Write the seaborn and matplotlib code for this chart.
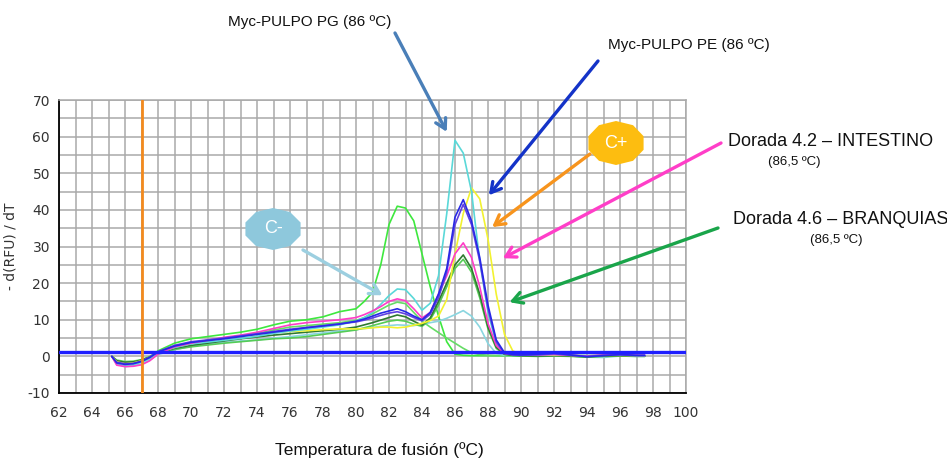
import numpy as np
import pandas as pd
import matplotlib
matplotlib.use("Agg")
import matplotlib.pyplot as plt
import seaborn as sns
from matplotlib.patches import Polygon

# melt curve data (temperature in C, -d(RFU)/dT)
temps = [65.2, 65.5, 66, 66.5, 67, 67.5, 68, 69, 70, 71, 72, 73, 74, 75, 76, 77, 78, 79, 80, 80.5,
         81, 81.5, 82, 82.5, 83, 83.5, 84, 84.5, 85, 85.5, 86, 86.5, 87, 87.5, 88, 88.5, 89, 89.5,
         90, 91, 92, 93, 94, 95, 96, 97, 97.5]

pulpo_pg = [0.0, -2.2, -2.6, -2.3, -1.6, -0.6, 1.0, 2.4, 3.4, 3.9, 4.4, 4.9, 5.5, 6.3, 6.9, 7.4, 8.0, 8.6, 9.6, 10.6,
            12.0, 14.2, 16.6, 18.4, 18.2, 15.8, 12.6, 14.5, 22.0, 39.0, 59.0, 55.5, 45.0, 26.0, 12.0, 3.5, 1.0, 0.5,
            0.4, 0.3, 0.5, 0.3, 0.2, 0.3, 0.4, 0.2, 0.2]
c_neg = [0.0, -2.0, -2.8, -2.6, -2.1, -1.0, 0.5, 1.8, 2.8, 3.3, 3.8, 4.2, 4.5, 5.0, 5.4, 5.9, 6.4, 6.9, 7.3, 7.6,
         7.9, 8.2, 8.4, 8.6, 8.5, 8.4, 8.8, 9.2, 9.6, 10.4, 11.4, 12.5, 11.0, 8.0, 3.5, 0.8, 0.3, 0.2,
         0.2, 0.1, 0.2, 0.1, -0.2, -0.3, 0.1, 0.0, 0.0]
c_pos = [0.0, -1.5, -2.0, -1.8, -1.2, -0.4, 1.0, 2.5, 3.5, 4.2, 5.0, 5.5, 6.0, 6.5, 6.8, 7.0, 7.3, 7.5, 7.5, 7.6,
         7.8, 8.0, 8.0, 7.8, 8.0, 8.5, 9.0, 9.8, 11.0, 15.5, 28.0, 39.0, 46.0, 43.0, 32.0, 17.0, 6.0, 1.5,
         0.5, 0.4, 0.3, 0.3, 0.2, 0.3, 0.3, 0.2, 0.2]
pulpo_pe = [0.0, -1.8, -2.2, -2.0, -1.4, -0.3, 1.2, 2.8, 3.8, 4.3, 4.8, 5.4, 6.0, 6.6, 7.2, 7.8, 8.3, 8.8, 9.6, 10.2,
            11.0, 11.8, 12.4, 13.0, 12.2, 11.0, 10.0, 12.0, 17.0, 24.0, 38.0, 42.8, 37.0, 27.0, 14.0, 4.5, 1.0, 0.5,
            0.4, 0.6, 0.9, 0.4, -0.1, 0.2, 0.5, 0.3, 0.3]
pulpo_pe2 = [0.0, -1.6, -2.0, -1.9, -1.3, -0.2, 1.3, 3.0, 4.0, 4.5, 5.0, 5.6, 6.2, 6.8, 7.4, 7.9, 8.4, 8.9, 9.4, 9.9,
             10.5, 11.2, 11.8, 12.2, 11.6, 10.6, 9.7, 11.5, 16.0, 23.0, 36.0, 41.5, 36.0, 26.0, 13.0, 4.0, 0.8, 0.4,
             0.3, 0.4, 0.7, 0.3, 0.0, 0.3, 0.4, 0.2, 0.2]
dorada_42 = [0.0, -2.4, -2.8, -2.7, -2.3, -1.2, 0.6, 2.6, 3.6, 4.4, 5.2, 5.8, 6.6, 7.6, 8.6, 9.2, 9.6, 10.0, 10.6, 11.4,
             12.4, 13.6, 15.0, 15.7, 15.2, 13.0, 10.5, 12.0, 17.0, 22.0, 28.0, 31.0, 27.0, 19.0, 9.0, 3.0, 0.8, 0.5,
             0.6, 0.4, 0.5, 0.3, 0.1, 0.4, 0.6, 0.3, 0.3]
dorada_46 = [0.0, -1.2, -1.6, -1.5, -1.0, -0.2, 1.0, 2.2, 3.0, 3.6, 4.2, 4.8, 5.3, 5.8, 6.2, 6.6, 7.0, 7.4, 8.0, 8.6,
             9.2, 9.9, 10.6, 11.3, 10.8, 9.6, 8.5, 10.5, 15.0, 20.0, 25.0, 27.7, 24.0, 17.0, 8.0, 2.5, 0.6, 0.3,
             0.2, 0.1, 0.2, 0.1, -0.1, 0.1, 0.2, 0.1, 0.1]
dorada_46b = [0.0, -1.3, -1.7, -1.6, -1.2, -0.4, 0.8, 1.9, 2.6, 3.1, 3.6, 4.0, 4.4, 4.8, 5.0, 5.4, 6.0, 6.6, 7.2, 7.8,
              8.4, 9.0, 9.6, 9.9, 9.6, 8.8, 8.2, 10.0, 14.0, 19.0, 24.0, 26.5, 23.0, 16.0, 7.5, 2.2, 0.5, 0.2,
              0.1, 0.0, 0.1, 0.0, -0.2, 0.0, 0.1, 0.0, 0.0]
dimer_a = [0.0, -1.4, -1.8, -1.6, -1.1, -0.2, 1.5, 3.6, 4.8, 5.4, 6.0, 6.6, 7.4, 8.6, 9.6, 10.0, 10.8, 12.2, 13.0, 15.0,
           17.5, 25.0, 36.0, 41.0, 40.5, 37.0, 28.0, 19.0, 11.0, 4.0, 0.6, 0.3, 0.2, 0.2, 0.2, 0.2, 0.2, 0.1,
           0.2, 0.1, 0.3, 0.1, 0.0, 0.1, 0.2, 0.1, 0.1]
dimer_b = [0.0, -1.0, -1.4, -1.3, -0.9, 0.0, 1.2, 2.6, 3.6, 4.4, 5.0, 5.6, 6.2, 7.2, 8.0, 8.4, 8.8, 9.2, 9.8, 10.6,
           11.6, 12.8, 14.0, 14.8, 14.4, 12.0, 9.6, 8.0, 6.5, 5.0, 3.6, 2.2, 1.0, 0.5, 0.3, 0.2, 0.2, 0.2,
           0.1, 0.2, 0.3, 0.1, 0.0, 0.2, 0.1, 0.1, 0.1]

threshold = 1.2
start_line = 67

series_names = ["dimer_a", "dimer_b", "c_neg", "dorada_46b", "dorada_46", "c_pos",
                "pulpo_pg", "dorada_42", "pulpo_pe2", "pulpo_pe"]
series_values = [dimer_a, dimer_b, c_neg, dorada_46b, dorada_46, c_pos,
                 pulpo_pg, dorada_42, pulpo_pe2, pulpo_pe]
colors = ["#3ee83e", "#66dc66", "#8ad6e0", "#55cc55", "#2f7a30", "#f2f230",
          "#5ad8d8", "#ff3cc8", "#6040e0", "#2828e6"]

df = pd.concat([pd.DataFrame({"temp": temps, "rfu": v, "serie": n})
                for n, v in zip(series_names, series_values)], ignore_index=True)

sns.set_style("white")
plt.rcParams["font.family"] = ["DejaVu Sans"]
plt.rcParams["axes.unicode_minus"] = False

W, H = 947, 459
fig = plt.figure(figsize=(W / 100, H / 100), dpi=100)
ax = fig.add_axes([59 / W, 66 / H, 627 / W, 293 / H])

sns.lineplot(data=df, x="temp", y="rfu", hue="serie", hue_order=series_names,
             palette=colors, estimator=None, sort=False, legend=False,
             linewidth=1.2, ax=ax)

ax.axhline(threshold, color="#1f1fff", lw=2.4, zorder=5)
ax.axvline(start_line, color="#f28a1e", lw=2, zorder=5)

ax.set_xlim(62, 100)
ax.set_ylim(-10, 70)
ax.set_xticks(np.arange(62, 101, 2))
ax.set_xticks(np.arange(62, 101, 1), minor=True)
ax.set_yticks(np.arange(-10, 71, 10))
ax.set_yticks(np.arange(-10, 71, 5), minor=True)
ax.grid(which="both", color="#a9a9a9", lw=1.1)
ax.set_axisbelow(True)
for s in ["top", "right"]:
    ax.spines[s].set_color("#a9a9a9")
    ax.spines[s].set_linewidth(1.1)
for s in ["left", "bottom"]:
    ax.spines[s].set_color("black")
    ax.spines[s].set_linewidth(1.3)
ax.tick_params(which="both", direction="inout", length=7, width=1.3, color="black",
               labelsize=10, labelcolor="#333333", top=False, right=False)
ax.tick_params(axis="x", pad=6)
ax.tick_params(axis="y", pad=3)
ax.set_xlabel("")
ax.set_ylabel("- d(RFU) / dT", fontsize=10, color="#333333")
ax.yaxis.set_label_coords(-0.066, 0.5)

fig.text(379 / W, 1 - 450 / H, "Temperatura de fusión (ºC)", ha="center", va="center",
         fontsize=12.5, family="Liberation Sans", color="#111111")


def px(x, y):
    return (x / W, 1 - y / H)


def arrow(tip, start, color):
    ax.annotate("", xy=tip, xycoords="data", xytext=px(*start), textcoords="figure fraction",
                arrowprops=dict(arrowstyle="->,head_length=0.7,head_width=0.4", color=color,
                                lw=2.4, shrinkA=0, shrinkB=0),
                annotation_clip=False, zorder=6)


def blob(cx, cy, rx, ry, color, label):
    ang = np.linspace(0, 2 * np.pi, 11)[:-1] + np.pi / 10
    verts = [px(cx + rx * np.cos(a), cy + ry * np.sin(a)) for a in ang]
    fig.add_artist(Polygon(verts, closed=True, transform=fig.transFigure,
                           facecolor=color, edgecolor="none", zorder=7))
    fig.text(*px(cx, cy), label, ha="center", va="center", color="white",
             fontsize=13, family="Liberation Sans", zorder=8)


txt = dict(family="Liberation Sans", color="#111111", va="center")
fig.text(*px(228, 22), "Myc-PULPO PG (86 ºC)", fontsize=11, **txt)
fig.text(*px(608, 45), "Myc-PULPO PE (86 ºC)", fontsize=11, **txt)
fig.text(*px(728, 141), "Dorada 4.2 – INTESTINO", fontsize=13, **txt)
fig.text(*px(768, 162), "(86,5 ºC)", fontsize=9.5, **txt)
fig.text(*px(733, 219), "Dorada 4.6 – BRANQUIAS", fontsize=13, **txt)
fig.text(*px(810, 240), "(86,5 ºC)", fontsize=9.5, **txt)

arrow((85.5, 61.3), (395, 33), "#4a7fb8")
arrow((88.05, 44.0), (598, 61), "#1433c8")
arrow((88.25, 35.3), (590, 154), "#f7941d")
arrow((88.9, 26.8), (721, 143), "#ff3ec8")
arrow((89.3, 14.8), (718, 228), "#1aa54a")
arrow((81.6, 16.7), (303, 250), "#9ccfe0")

blob(616, 143, 29, 22, "#fdbd10", "C+")
blob(273, 229, 29, 21, "#8ec8dc", "C-")

fig.savefig("out.png", dpi=100)
